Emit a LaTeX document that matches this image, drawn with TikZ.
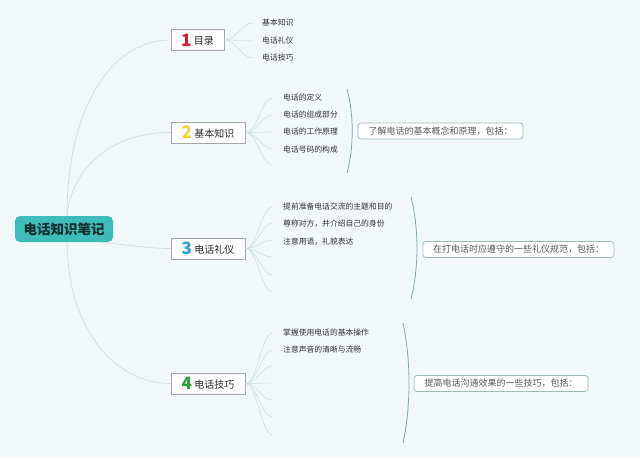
\documentclass[tikz,border=0pt]{standalone}
\usepackage{fontspec}
\setmainfont{Noto Sans CJK SC}
\definecolor{bgc}{HTML}{F3F8FA}
\definecolor{rootc}{HTML}{40BCB8}
\definecolor{roottext}{HTML}{10302F}
\definecolor{boxc}{HTML}{A4A8AA}
\definecolor{textc}{HTML}{2A2A2A}
\definecolor{itemc}{HTML}{333333}
\definecolor{sumc}{HTML}{9DBAB6}
\definecolor{sumt}{HTML}{5A5A5A}
\definecolor{linec}{HTML}{D6DDE0}
\definecolor{sublinec}{HTML}{D2E1DE}
\definecolor{bracec}{HTML}{7FAAA6}
\definecolor{cone}{HTML}{D81A3C}
\definecolor{ctwo}{HTML}{F1D241}
\definecolor{cthree}{HTML}{2B9BD9}
\definecolor{cfour}{HTML}{23A03A}
\newcommand\bnum[3]{{\fontsize{17}{17}\selectfont\bfseries\color{#1}#2}\hspace{2.5pt}\raisebox{1.2pt}{#3}}
\begin{document}
\begin{tikzpicture}[x=1pt,y=-1pt,
  rootbox/.style={fill=rootc, rounded corners=5pt, minimum width=98pt, minimum height=26pt, inner sep=0pt, font=\fontsize{13.5}{14}\selectfont\bfseries, text=roottext},
  branchbox/.style={draw=boxc, line width=0.8pt, fill=white, minimum height=21pt, inner sep=0pt, font=\fontsize{10}{12}\selectfont, text=textc},
  itemtext/.style={anchor=west, inner sep=0pt, font=\fontsize{7.8}{9}\selectfont, text=itemc},
  sumbox/.style={draw=sumc, line width=0.7pt, rounded corners=3pt, fill=white, minimum height=16pt, inner sep=0pt, font=\fontsize{9}{10}\selectfont, text=sumt},
  mainline/.style={draw=linec, line width=0.7pt},
  subline/.style={draw=sublinec, line width=0.6pt},
  bracket/.style={draw=bracec, line width=0.8pt}]
\fill[bgc] (0,0) rectangle (640,458);
\useasboundingbox (0,0) rectangle (640,458);

% root and branches
\node[rootbox] (root) at (64,229) {电话知识笔记};
\node[branchbox, minimum width=53pt] (b1) at (197.5,40) {\bnum{cone}{1}{目录}};
\node[branchbox, minimum width=74pt] (b2) at (208,132.5) {\bnum{ctwo}{2}{基本知识}};
\node[branchbox, minimum width=74pt] (b3) at (208,248.5) {\bnum{cthree}{3}{电话礼仪}};
\node[branchbox, minimum width=74pt] (b4) at (208,383.5) {\bnum{cfour}{4}{电话技巧}};

% main connectors
\draw[mainline] ([xshift=3pt]root.north) .. controls (67,110) and (110,40) .. (b1.west);
\draw[mainline] ([xshift=3pt]root.north) .. controls (72,165) and (115,132) .. (b2.west);
\draw[mainline] ([xshift=-13pt]root.south east) .. controls (130,245) and (150,248.5) .. (b3.west);
\draw[mainline] ([xshift=3pt]root.south) .. controls (68,330) and (115,383.5) .. (b4.west);

% branch 1 sub items
\foreach \yy [count=\i] in {23,41,58} {
  \coordinate (ea\i) at (253,\yy);
  \draw[subline] (b1.east) .. controls +(12,0) and +(-12,0) .. (ea\i);
}
\node[itemtext] (ta1) at (262,23) {基本知识};
\node[itemtext] (ta2) at (262,41) {电话礼仪};
\node[itemtext] (ta3) at (262,58) {电话技巧};

% branch 2 sub items
\foreach \yy [count=\i] in {98,115,132,149,165} {
  \coordinate (eb\i) at (273,\yy);
  \draw[subline] (b2.east) .. controls +(12,0) and +(-12,0) .. (eb\i);
}
\node[itemtext] (tb1) at (283,98) {电话的定义};
\node[itemtext] (tb2) at (283,115) {电话的组成部分};
\node[itemtext] (tb3) at (283,132) {电话的工作原理};
\node[itemtext] (tb4) at (283,150) {电话号码的构成};
\coordinate (kb1) at (347,89);
\coordinate (kb2) at (347,173);
\draw[bracket] (kb1) .. controls (354,115) and (354,147) .. (kb2);
\node[sumbox, minimum width=165pt] (sb) at (440.5,131) {了解电话的基本概念和原理，包括：};

% branch 3 sub items
\foreach \yy [count=\i] in {207,223,240,257,275,292} {
  \coordinate (ec\i) at (273,\yy);
  \draw[subline] (b3.east) .. controls +(12,0) and +(-12,0) .. (ec\i);
}
\node[itemtext] (tc1) at (283,207) {提前准备电话交流的主题和目的};
\node[itemtext] (tc2) at (283,224) {尊称对方，并介绍自己的身份};
\node[itemtext] (tc3) at (283,242) {注意用语，礼貌表达};
\coordinate (kc1) at (411,197);
\coordinate (kc2) at (411,299);
\draw[bracket] (kc1) .. controls (419,229) and (419,267) .. (kc2);
\node[sumbox, minimum width=191pt] (sc) at (518.5,249.5) {在打电话时应遵守的一些礼仪规范，包括：};

% branch 4 sub items
\foreach \yy [count=\i] in {333,350,366,383,400,417,435} {
  \coordinate (ed\i) at (273,\yy);
  \draw[subline] (b4.east) .. controls +(12,0) and +(-12,0) .. (ed\i);
}
\node[itemtext] (td1) at (283,333) {掌握使用电话的基本操作};
\node[itemtext] (td2) at (283,350) {注意声音的清晰与流畅};
\coordinate (kd1) at (403,323);
\coordinate (kd2) at (403,443);
\draw[bracket] (kd1) .. controls (411,360) and (411,406) .. (kd2);
\node[sumbox, minimum width=174pt] (sd) at (501,383.5) {提高电话沟通效果的一些技巧，包括：};
\end{tikzpicture}
\end{document}
